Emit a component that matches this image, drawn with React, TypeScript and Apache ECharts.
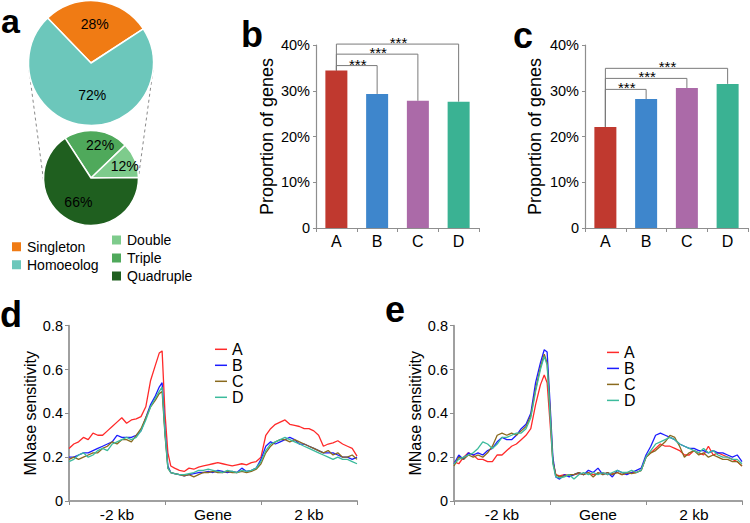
import React, { useEffect, useRef } from "react";
import * as echarts from "echarts";

// ---------- data ----------
const pieTopNames = ["Singleton", "Homoeolog"];
const pieTopValues = [28, 72];
const pieBottomNames = ["Triple", "Double", "Quadruple"];
const pieBottomValues = [22, 12, 66];
const pieBottomLegend = ["Double", "Triple", "Quadruple"];

const barCategories = ["A", "B", "C", "D"];
const barValuesB = [0.344, 0.293, 0.278, 0.276];
const barValuesC = [0.221, 0.282, 0.306, 0.315];
const bracketTargets = [1, 2, 3];
const bracketLevelsB = [0.355, 0.38, 0.402];
const bracketLevelsC = [0.303, 0.327, 0.349];
const starText = "***";

const profileCategories = ["-2 kb", "Gene", "2 kb"];
const profileNames = ["A", "B", "C", "D"];
const profileX = [
  0, 5, 10, 15, 20, 25, 30, 35, 40, 45, 50, 55, 60, 65, 70, 75, 80, 85, 90,
  94, 97, 100, 103, 106,
  110, 115, 120, 125, 130, 135, 140, 145, 150, 155,
  160, 165, 170, 175, 180, 185, 190, 195, 200, 205,
  210, 215, 220, 225, 230, 235, 240, 245, 250, 255,
  260, 265, 270, 275, 280, 285, 290, 295, 300,
];

const dA = [
  0.24, 0.26, 0.27, 0.29, 0.28, 0.31, 0.30, 0.30, 0.32, 0.34, 0.36, 0.38, 0.355, 0.37, 0.375, 0.385, 0.43, 0.55, 0.62,
  0.675, 0.685, 0.40, 0.22, 0.16,
  0.15, 0.14, 0.135, 0.15, 0.145, 0.155, 0.16, 0.165, 0.17, 0.175,
  0.17, 0.165, 0.16, 0.165, 0.17, 0.165, 0.175, 0.18, 0.20, 0.30,
  0.33, 0.35, 0.36, 0.37, 0.35, 0.345, 0.34, 0.33, 0.33, 0.32,
  0.30, 0.25, 0.26, 0.265, 0.275, 0.26, 0.25, 0.24, 0.205,
];
const dB = [
  0.20, 0.20, 0.21, 0.22, 0.22, 0.23, 0.24, 0.25, 0.26, 0.27, 0.30, 0.29, 0.29, 0.29, 0.30, 0.32, 0.38, 0.44, 0.48,
  0.52, 0.54, 0.32, 0.16, 0.13,
  0.125, 0.12, 0.115, 0.12, 0.125, 0.13, 0.13, 0.135, 0.13, 0.14,
  0.135, 0.13, 0.135, 0.13, 0.15, 0.135, 0.14, 0.15, 0.19, 0.25,
  0.27, 0.26, 0.27, 0.28, 0.29, 0.28, 0.26, 0.26, 0.25, 0.24,
  0.23, 0.22, 0.22, 0.22, 0.21, 0.20, 0.20, 0.19, 0.20,
];
const dC = [
  0.19, 0.20, 0.19, 0.20, 0.21, 0.22, 0.22, 0.24, 0.25, 0.27, 0.26, 0.28, 0.28, 0.27, 0.30, 0.33, 0.38, 0.43, 0.46,
  0.49, 0.50, 0.30, 0.15, 0.13,
  0.125, 0.12, 0.115, 0.12, 0.11, 0.12, 0.13, 0.13, 0.135, 0.13,
  0.13, 0.135, 0.13, 0.13, 0.135, 0.13, 0.135, 0.145, 0.17, 0.22,
  0.25, 0.27, 0.28, 0.28, 0.27, 0.28, 0.27, 0.26, 0.25, 0.24,
  0.23, 0.22, 0.23, 0.21, 0.22, 0.20, 0.20, 0.21, 0.19,
];
const dD = [
  0.18, 0.19, 0.21, 0.22, 0.20, 0.21, 0.23, 0.24, 0.23, 0.26, 0.27, 0.28, 0.29, 0.28, 0.29, 0.32, 0.37, 0.43, 0.47,
  0.50, 0.52, 0.31, 0.15, 0.13,
  0.125, 0.12, 0.12, 0.125, 0.13, 0.14, 0.14, 0.145, 0.14, 0.135,
  0.13, 0.14, 0.135, 0.13, 0.14, 0.135, 0.14, 0.15, 0.18, 0.23,
  0.26, 0.27, 0.28, 0.29, 0.28, 0.27, 0.26, 0.25, 0.24, 0.23,
  0.22, 0.21, 0.20, 0.19, 0.20, 0.19, 0.19, 0.18, 0.17,
];

const eA = [
  0.18, 0.17, 0.20, 0.22, 0.21, 0.19, 0.19, 0.18, 0.18, 0.21, 0.21, 0.23, 0.25, 0.26, 0.28, 0.30, 0.33, 0.44, 0.53,
  0.575, 0.54, 0.36, 0.18, 0.12,
  0.115, 0.12, 0.115, 0.12, 0.125, 0.12, 0.13, 0.12, 0.125, 0.13,
  0.12, 0.125, 0.13, 0.12, 0.125, 0.13, 0.13, 0.14, 0.20, 0.22,
  0.24, 0.26, 0.25, 0.25, 0.24, 0.23, 0.21, 0.21, 0.23, 0.22,
  0.21, 0.25, 0.21, 0.22, 0.21, 0.20, 0.19, 0.18, 0.16,
];
const eB = [
  0.17, 0.21, 0.19, 0.22, 0.21, 0.22, 0.21, 0.23, 0.24, 0.27, 0.29, 0.28, 0.28, 0.30, 0.33, 0.35, 0.40, 0.54, 0.63,
  0.69, 0.68, 0.45, 0.20, 0.11,
  0.10, 0.12, 0.11, 0.12, 0.13, 0.12, 0.14, 0.13, 0.15, 0.12,
  0.13, 0.11, 0.14, 0.13, 0.12, 0.13, 0.14, 0.15, 0.21, 0.25,
  0.30, 0.31, 0.30, 0.29, 0.28, 0.26, 0.25, 0.24, 0.24, 0.23,
  0.23, 0.22, 0.23, 0.22, 0.22, 0.21, 0.20, 0.21, 0.18,
];
const eC = [
  0.16, 0.20, 0.19, 0.21, 0.20, 0.21, 0.20, 0.22, 0.25, 0.30, 0.31, 0.30, 0.31, 0.30, 0.32, 0.34, 0.39, 0.51, 0.61,
  0.67, 0.63, 0.42, 0.18, 0.12,
  0.11, 0.115, 0.12, 0.12, 0.13, 0.12, 0.13, 0.11, 0.13, 0.12,
  0.13, 0.12, 0.13, 0.12, 0.13, 0.125, 0.13, 0.14, 0.20, 0.22,
  0.23, 0.25, 0.27, 0.30, 0.29, 0.25, 0.20, 0.22, 0.23, 0.21,
  0.22, 0.20, 0.21, 0.20, 0.19, 0.19, 0.18, 0.18, 0.16,
];
const eD = [
  0.17, 0.19, 0.20, 0.21, 0.22, 0.24, 0.27, 0.26, 0.24, 0.26, 0.29, 0.29, 0.30, 0.31, 0.31, 0.33, 0.38, 0.50, 0.60,
  0.66, 0.62, 0.40, 0.17, 0.11,
  0.105, 0.11, 0.12, 0.10, 0.12, 0.13, 0.12, 0.13, 0.12, 0.13,
  0.12, 0.13, 0.14, 0.13, 0.13, 0.14, 0.13, 0.14, 0.20, 0.23,
  0.26, 0.27, 0.28, 0.29, 0.28, 0.26, 0.25, 0.24, 0.23, 0.22,
  0.24, 0.22, 0.23, 0.21, 0.20, 0.20, 0.19, 0.19, 0.17,
];

// ---------- styles ----------
const FONT = "'Liberation Sans', Arial, sans-serif";
const AXIS_GRAY = "#8e8e8e";
const pieTopColors = ["#f07b14", "#6cc7bb"];
const pieBottomColors = ["#4fa95b", "#7ecb8c", "#1f5f1f"];
const barColors = ["#c0392f", "#3e86cc", "#ab6aa8", "#3ab293"];
const lineColors = ["#ff2a2a", "#1c1cff", "#8a6a1e", "#3cbb9c"];

const TOP_PIE = { cx: 91, cy: 63, r: 62.5 };
const BOT_PIE = { cx: 91, cy: 178, r: 47.5 };
const topLabelShift = [[0, -5], [5, -2]];
const botLabelShift = [[6, -6], [9, -2], [0, 0]];

function pctLabel(v: number) {
  return v === 0 ? "0" : Math.round(v * 100) + "%";
}
function decLabel(v: number) {
  return v === 0 ? "0" : v.toFixed(1);
}

function barYAxis(gridIndex: number, nameGap: number) {
  return {
    gridIndex,
    type: "value",
    min: 0,
    max: 0.4,
    interval: 0.1,
    name: "Proportion of genes",
    nameLocation: "middle",
    nameGap,
    nameTextStyle: { fontSize: 18, color: "#000", fontFamily: FONT },
    splitLine: { show: false },
    axisLine: { show: true, lineStyle: { color: AXIS_GRAY, width: 1.2 } },
    axisTick: { show: true, length: 3, lineStyle: { color: AXIS_GRAY } },
    axisLabel: { formatter: pctLabel, fontSize: 14.5, color: "#000", margin: 6, fontFamily: FONT },
  };
}
function barXAxis(gridIndex: number) {
  return {
    gridIndex,
    type: "category",
    data: barCategories,
    axisLine: { show: true, lineStyle: { color: AXIS_GRAY, width: 1.2 } },
    axisTick: { show: true, length: 4, lineStyle: { color: AXIS_GRAY } },
    axisLabel: { fontSize: 16, color: "#000", margin: 5, fontFamily: FONT },
  };
}
function profYAxis(gridIndex: number) {
  return {
    gridIndex,
    type: "value",
    min: 0,
    max: 0.8,
    interval: 0.2,
    name: "MNase sensitivity",
    nameLocation: "middle",
    nameGap: 25,
    nameTextStyle: { fontSize: 16, color: "#000", fontFamily: FONT },
    splitLine: { show: false },
    axisLine: { show: true, lineStyle: { color: "#a0a0a0", width: 2 } },
    axisTick: { show: true, length: 4, lineStyle: { color: AXIS_GRAY } },
    axisLabel: { formatter: decLabel, fontSize: 14.5, color: "#000", margin: 6, fontFamily: FONT },
  };
}
function profXAxisCat(gridIndex: number) {
  return {
    gridIndex,
    type: "category",
    data: profileCategories,
    boundaryGap: true,
    axisLine: { show: true, lineStyle: { color: "#a0a0a0", width: 2 } },
    axisTick: { show: true, length: 4, lineStyle: { color: AXIS_GRAY } },
    axisLabel: { fontSize: 15.5, color: "#000", margin: 5, fontFamily: FONT },
  };
}
function profXAxisVal(gridIndex: number) {
  return { gridIndex, type: "value", min: 0, max: 300, show: false };
}

function barSeries(idx: number, values: number[]) {
  return {
    type: "bar",
    xAxisIndex: idx,
    yAxisIndex: idx,
    barWidth: 22,
    silent: true,
    data: values.map((v, i) => ({ value: v, itemStyle: { color: barColors[i] } })),
  };
}
function bracketSeries(idx: number, values: number[], levels: number[]) {
  return {
    type: "custom",
    xAxisIndex: idx,
    yAxisIndex: idx,
    silent: true,
    clip: false,
    encode: { x: 0, y: 2 },
    data: bracketTargets.map((t, i) => [0, t, levels[i], values[0], values[t]]),
    renderItem: (_p: any, api: any) => {
      const from = api.value(0);
      const to = api.value(1);
      const lvl = api.value(2);
      const p0 = api.coord([from, api.value(3)]);
      const p1 = api.coord([from, lvl]);
      const p2 = api.coord([to, lvl]);
      const p3 = api.coord([to, api.value(4)]);
      return {
        type: "group",
        children: [
          {
            type: "polyline",
            shape: { points: [p0, p1, p2, p3] },
            style: { stroke: "#7a7a7a", fill: "none", lineWidth: 1 },
          },
          {
            type: "text",
            x: (p1[0] + p2[0]) / 2 + 1,
            y: p1[1] + 6,
            style: {
              text: starText,
              fontSize: 15,
              fill: "#000",
              align: "center",
              verticalAlign: "bottom",
              fontFamily: FONT,
            },
          },
        ],
      };
    },
  };
}
function lineSeries(xIdx: number, yIdx: number, ys: number[][]) {
  return ys.map((arr, k) => ({
    type: "line",
    name: profileNames[k],
    xAxisIndex: xIdx,
    yAxisIndex: yIdx,
    showSymbol: false,
    symbol: "none",
    silent: true,
    color: lineColors[k],
    lineStyle: { width: 1.3, color: lineColors[k] },
    data: profileX.map((x, i) => [x, arr[i]]),
  }));
}

function letter(t: string, x: number, y: number, size = 36) {
  return {
    type: "text",
    x,
    y,
    style: {
      text: t,
      fontSize: size,
      fontWeight: "bold",
      fill: "#000",
      fontFamily: FONT,
      verticalAlign: "middle",
    },
  };
}

function lineLegend(left: number, top: number) {
  return {
    data: profileNames,
    orient: "vertical",
    left,
    top,
    padding: 0,
    icon: "rect",
    itemWidth: 12,
    itemHeight: 1.5,
    itemGap: 0,
    selectedMode: false,
    textStyle: { fontSize: 16, color: "#000", fontFamily: FONT, lineHeight: 15.3 },
  };
}

export default function App() {
  const ref = useRef<HTMLDivElement>(null);
  useEffect(() => {
    if (!ref.current) return;
    const chart = echarts.init(ref.current, null, { renderer: "svg" });
    const pieLabel = { show: true, position: "inside", formatter: "{c}%", fontSize: 14, color: "#000", fontFamily: FONT };
    const option: any = {
      animation: false,
      textStyle: { fontFamily: FONT },
      grid: [
        { left: 316, top: 45, width: 163, height: 183, outerBoundsMode: "none" },
        { left: 585, top: 45, width: 163, height: 183, outerBoundsMode: "none" },
        { left: 69, top: 325.7, width: 288, height: 175.3, outerBoundsMode: "none" },
        { left: 454, top: 325.7, width: 288, height: 175.3, outerBoundsMode: "none" },
      ],
      xAxis: [
        barXAxis(0),
        barXAxis(1),
        profXAxisCat(2),
        profXAxisVal(2),
        profXAxisCat(3),
        profXAxisVal(3),
      ],
      yAxis: [barYAxis(0, 40), barYAxis(1, 41), profYAxis(2), profYAxis(3)],
      legend: [
        {
          data: pieTopNames,
          orient: "vertical",
          left: 10,
          top: 239.7,
          padding: 0,
          icon: "rect",
          itemWidth: 11,
          itemHeight: 11,
          itemGap: 4,
          selectedMode: false,
          textStyle: { fontSize: 14, color: "#000", fontFamily: FONT, lineHeight: 14 },
        },
        {
          data: pieBottomLegend,
          orient: "vertical",
          left: 110,
          top: 233,
          padding: 0,
          icon: "rect",
          itemWidth: 11,
          itemHeight: 11,
          itemGap: 4,
          selectedMode: false,
          textStyle: { fontSize: 14, color: "#000", fontFamily: FONT, lineHeight: 14 },
        },
        lineLegend(215, 341.3),
        lineLegend(607, 344.4),
      ],
      graphic: [
        letter("a", 1, 20.5, 34),
        letter("b", 241, 34),
        letter("c", 513, 35),
        letter("d", 0, 314),
        letter("e", 385, 309),
        {
          type: "line",
          shape: {
            x1: TOP_PIE.cx - TOP_PIE.r + 0.5,
            y1: TOP_PIE.cy + 7,
            x2: BOT_PIE.cx - BOT_PIE.r,
            y2: BOT_PIE.cy + 2,
          },
          style: { stroke: "#8a8a8a", lineWidth: 1, lineDash: [3, 3] },
        },
        {
          type: "line",
          shape: {
            x1: TOP_PIE.cx + TOP_PIE.r - 0.5,
            y1: TOP_PIE.cy + 7,
            x2: BOT_PIE.cx + BOT_PIE.r,
            y2: BOT_PIE.cy - 1,
          },
          style: { stroke: "#8a8a8a", lineWidth: 1, lineDash: [3, 3] },
        },
      ],
      series: [
        {
          type: "pie",
          center: [TOP_PIE.cx, TOP_PIE.cy],
          radius: TOP_PIE.r,
          startAngle: 134,
          clockwise: true,
          silent: true,
          label: pieLabel,
          labelLine: { show: false },
          labelLayout: (p: any) => ({ dx: topLabelShift[p.dataIndex][0], dy: topLabelShift[p.dataIndex][1] }),
          itemStyle: { borderColor: "#fff", borderWidth: 1.5 },
          data: pieTopNames.map((n, i) => ({
            name: n,
            value: pieTopValues[i],
            itemStyle: { color: pieTopColors[i] },
          })),
        },
        {
          type: "pie",
          center: [BOT_PIE.cx, BOT_PIE.cy],
          radius: BOT_PIE.r,
          startAngle: 123,
          clockwise: true,
          silent: true,
          label: pieLabel,
          labelLine: { show: false },
          labelLayout: (p: any) => ({ dx: botLabelShift[p.dataIndex][0], dy: botLabelShift[p.dataIndex][1] }),
          itemStyle: { borderColor: "#fff", borderWidth: 1.5 },
          data: pieBottomNames.map((n, i) => ({
            name: n,
            value: pieBottomValues[i],
            itemStyle: { color: pieBottomColors[i] },
          })),
        },
        barSeries(0, barValuesB),
        bracketSeries(0, barValuesB, bracketLevelsB),
        barSeries(1, barValuesC),
        bracketSeries(1, barValuesC, bracketLevelsC),
        ...lineSeries(3, 2, [dA, dB, dC, dD]),
        ...lineSeries(5, 3, [eA, eB, eC, eD]),
      ],
    };
    chart.setOption(option);
    return () => chart.dispose();
  }, []);
  return (
    <div
      ref={ref}
      style={{ position: "fixed", left: 0, top: 0, width: 750, height: 523, background: "#fff" }}
    />
  );
}
